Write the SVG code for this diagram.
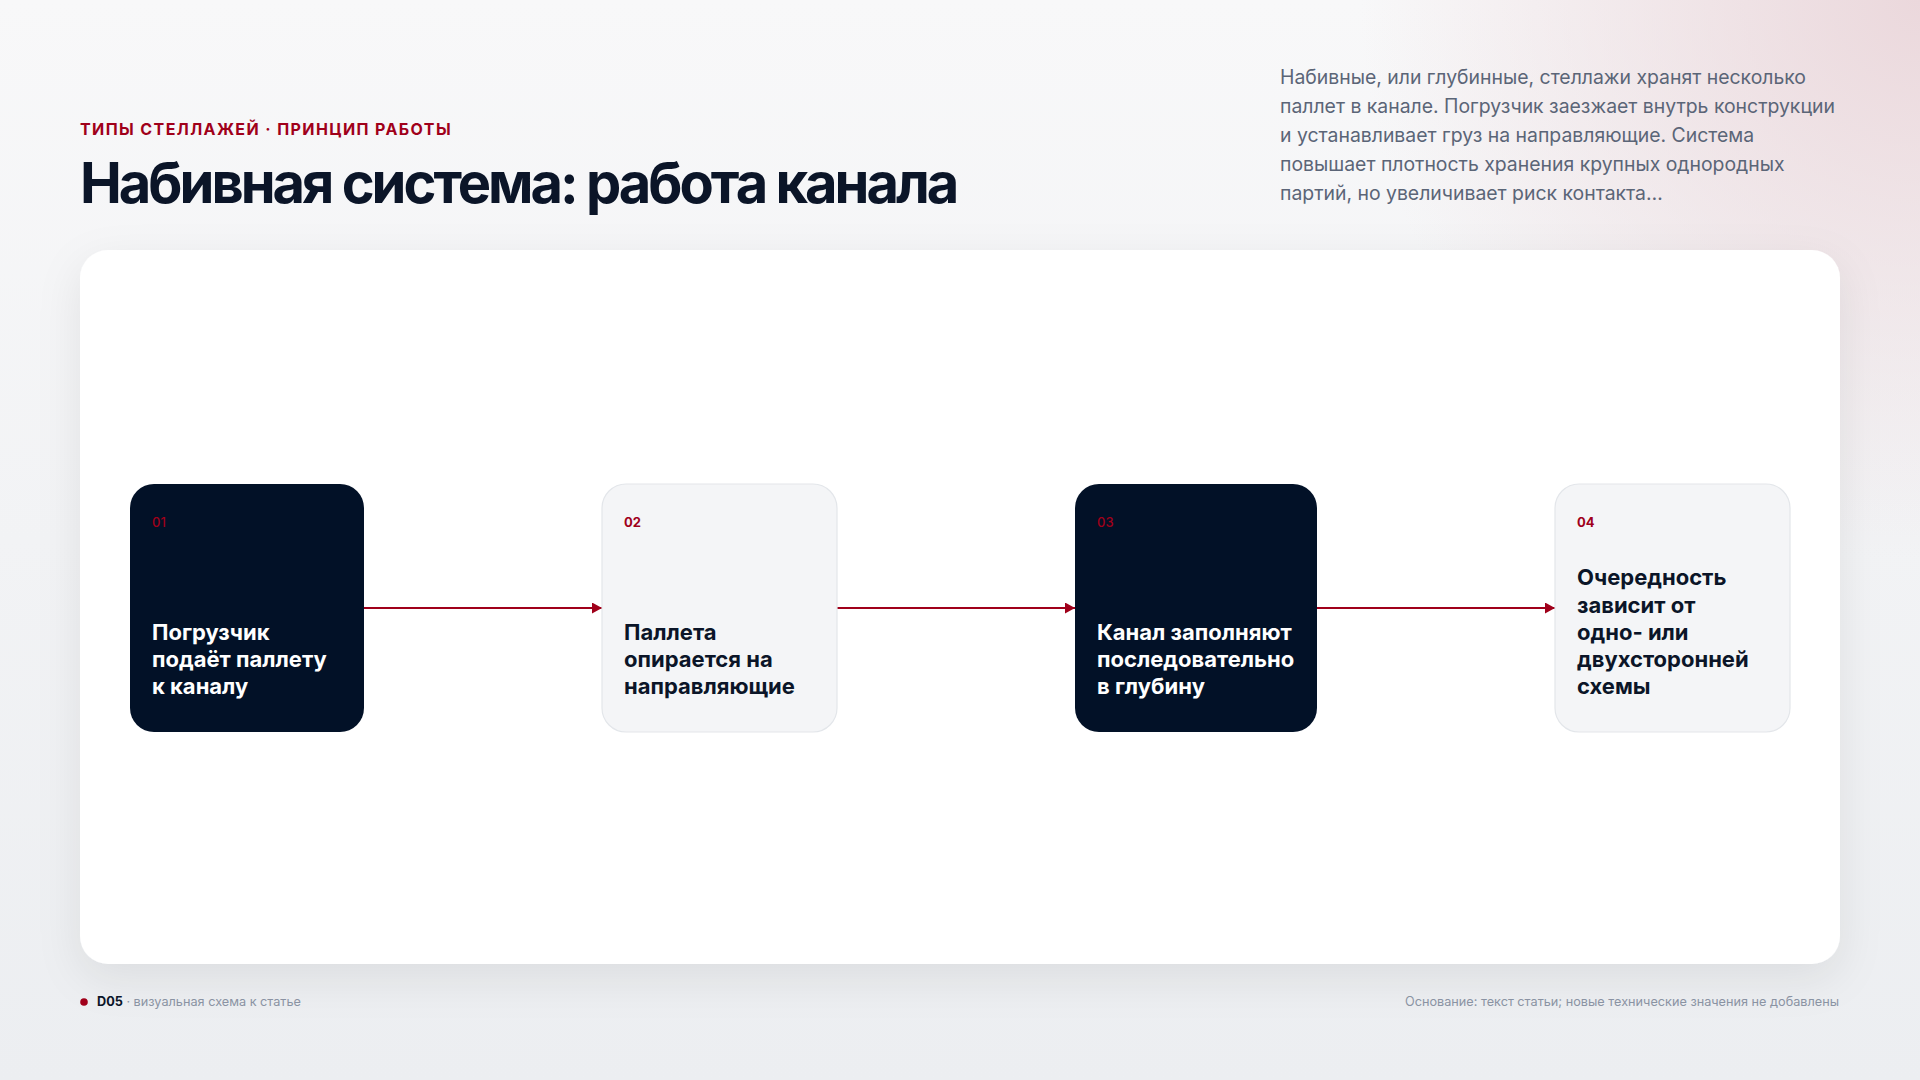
<svg xmlns="http://www.w3.org/2000/svg" width="1920" height="1080" viewBox="0 0 1920 1080">
  <defs>
    <linearGradient id="bg" x1="0" y1="0" x2="0" y2="1">
      <stop offset="0" stop-color="#f8f8f9"/>
      <stop offset="1" stop-color="#eceef1"/>
    </linearGradient>
    <radialGradient id="pink" cx="1920" cy="0" r="560" gradientUnits="userSpaceOnUse">
      <stop offset="0" stop-color="#ebd8dc" stop-opacity="1"/>
      <stop offset="1" stop-color="#ebd8dc" stop-opacity="0"/>
    </radialGradient>
    <filter id="shadow" x="-10%" y="-10%" width="120%" height="130%">
      <feDropShadow dx="0" dy="14" stdDeviation="22" flood-color="#0b1528" flood-opacity="0.08"/>
    </filter>
    <marker id="arrow" viewBox="0 0 10 11" refX="10" refY="5.5" markerWidth="10" markerHeight="11" markerUnits="userSpaceOnUse" orient="auto">
      <path d="M0,0 L10,5.5 L0,11 Z" fill="#a0001a"/>
    </marker>
    <style>
      .sans { font-family: Inter, "Noto Sans", "DejaVu Sans", sans-serif; }
      .eyebrow { font-size: 16px; font-weight: 700; fill: #a0001a; letter-spacing: 1.4px; }
      .title { font-size: 56px; font-weight: 700; fill: #0b1528; letter-spacing: -3px; }
      .lead { font-size: 19.4px; font-weight: 400; fill: #5b6577; }
      .dark { fill: #021127; }
      .light { fill: #f4f5f7; stroke: #e3e6ea; stroke-width: 1.2; }
      .num { font-size: 13px; fill: #a0001a; }
      .num-d { font-weight: 500; }
      .num-l { font-weight: 700; }
      .lbl { font-size: 22px; font-weight: 700; }
      .lbl-d { fill: #ffffff; }
      .lbl-l { fill: #0b1528; }
      .conn { stroke: #a0001a; stroke-width: 2; fill: none; }
      .foot { font-size: 12.7px; fill: #8a93a3; }
      .foot-b { font-weight: 700; fill: #0b1528; }
    </style>
  </defs>

  <rect x="0" y="0" width="1920" height="1080" fill="url(#bg)"/>
  <rect x="0" y="0" width="1920" height="1080" fill="url(#pink)"/>

  <g id="header" class="sans">
    <text class="eyebrow" x="80" y="135">ТИПЫ СТЕЛЛАЖЕЙ · ПРИНЦИП РАБОТЫ</text>
    <text class="title" x="80" y="203">Набивная система: работа канала</text>
    <text class="lead" x="1280">
      <tspan x="1280" y="84">Набивные, или глубинные, стеллажи хранят несколько</tspan>
      <tspan x="1280" y="113">паллет в канале. Погрузчик заезжает внутрь конструкции</tspan>
      <tspan x="1280" y="142">и устанавливает груз на направляющие. Система</tspan>
      <tspan x="1280" y="171">повышает плотность хранения крупных однородных</tspan>
      <tspan x="1280" y="200">партий, но увеличивает риск контакта…</tspan>
    </text>
  </g>

  <rect id="card" x="80" y="250" width="1760" height="714" rx="28" fill="#ffffff" filter="url(#shadow)"/>

  <g id="connectors">
    <line class="conn" x1="364" y1="608" x2="602" y2="608" marker-end="url(#arrow)"/>
    <line class="conn" x1="837" y1="608" x2="1075" y2="608" marker-end="url(#arrow)"/>
    <line class="conn" x1="1317" y1="608" x2="1555" y2="608" marker-end="url(#arrow)"/>
  </g>

  <g id="node-01" class="sans">
    <rect class="dark" x="130" y="484" width="234" height="248" rx="24"/>
    <text class="num num-d" x="152" y="527">01</text>
    <text class="lbl lbl-d">
      <tspan x="152" y="640">Погрузчик</tspan>
      <tspan x="152" y="667">подаёт паллету</tspan>
      <tspan x="152" y="694">к каналу</tspan>
    </text>
  </g>

  <g id="node-02" class="sans">
    <rect class="light" x="602" y="484" width="235" height="248" rx="24"/>
    <text class="num num-l" x="624" y="527">02</text>
    <text class="lbl lbl-l">
      <tspan x="624" y="640">Паллета</tspan>
      <tspan x="624" y="667">опирается на</tspan>
      <tspan x="624" y="694">направляющие</tspan>
    </text>
  </g>

  <g id="node-03" class="sans">
    <rect class="dark" x="1075" y="484" width="242" height="248" rx="24"/>
    <text class="num num-d" x="1097" y="527">03</text>
    <text class="lbl lbl-d">
      <tspan x="1097" y="640">Канал заполняют</tspan>
      <tspan x="1097" y="667">последовательно</tspan>
      <tspan x="1097" y="694">в глубину</tspan>
    </text>
  </g>

  <g id="node-04" class="sans">
    <rect class="light" x="1555" y="484" width="235" height="248" rx="24"/>
    <text class="num num-l" x="1577" y="527">04</text>
    <text class="lbl lbl-l">
      <tspan x="1577" y="585">Очередность</tspan>
      <tspan x="1577" y="612.5">зависит от</tspan>
      <tspan x="1577" y="640">одно- или</tspan>
      <tspan x="1577" y="667">двухсторонней</tspan>
      <tspan x="1577" y="694">схемы</tspan>
    </text>
  </g>

  <g id="footer" class="sans">
    <circle cx="84" cy="1002" r="3.8" fill="#a0001a"/>
    <text class="foot" x="97" y="1006"><tspan class="foot-b">D05</tspan> · визуальная схема к статье</text>
    <text class="foot" x="1839" y="1006" text-anchor="end">Основание: текст статьи; новые технические значения не добавлены</text>
  </g>
</svg>
